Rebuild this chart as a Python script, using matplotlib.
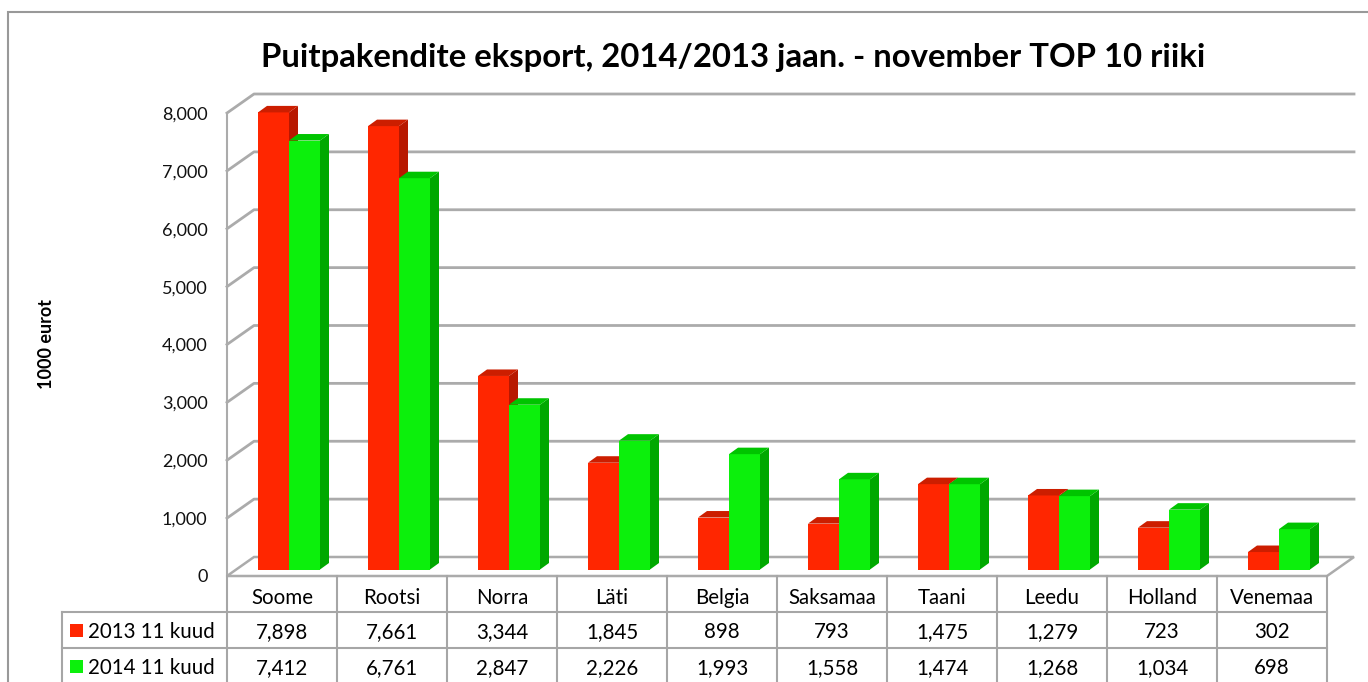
import matplotlib
matplotlib.use("Agg")
import matplotlib.pyplot as plt
import matplotlib.ticker as mticker
from matplotlib.patches import Rectangle, Polygon

plt.rcParams['font.family'] = ['Lato', 'DejaVu Sans']

# data
countries = ['Soome', 'Rootsi', 'Norra', 'Läti', 'Belgia', 'Saksamaa',
             'Taani', 'Leedu', 'Holland', 'Venemaa']
series_names = ['2013 11 kuud', '2014 11 kuud']
values_2013 = [7898, 7661, 3344, 1845, 898, 793, 1475, 1279, 723, 302]
values_2014 = [7412, 6761, 2847, 2226, 1993, 1558, 1474, 1268, 1034, 698]
y_ticks = [0, 1000, 2000, 3000, 4000, 5000, 6000, 7000, 8000]

title = 'Puitpakendite eksport, 2014/2013 jaan. - november TOP 10 riiki'
y_label = '1000 eurot'

colors = {
    'red_front': '#ff2600', 'red_side': '#b81800', 'red_top': '#cc1e00',
    'green_front': '#0cf00c', 'green_side': '#00a800', 'green_top': '#00c400',
    'grid': '#ababab', 'table': '#a6a6a6', 'frame': '#999999',
}

W, H = 1368, 682
fig = plt.figure(figsize=(W / 100, H / 100), dpi=100)

# outer chart frame (right and bottom edges fall outside the picture)
fig.patches.append(Rectangle((8 / W, -0.2), 2, 1.2 - 12 / H, transform=fig.transFigure,
                             fill=False, edgecolor=colors['frame'], lw=1.5))

# main plot: front plane of the 3d box
left_px, right_px, zero_px, top_px = 227, 1327, 576, 113
ax = fig.add_axes([left_px / W, (H - zero_px) / H,
                   (right_px - left_px) / W, (zero_px - top_px) / H])
n = len(countries)
ax.set_xlim(0, n)
ax.set_ylim(0, 8000)
for s in ax.spines.values():
    s.set_visible(False)
ax.set_xticks([])
ax.set_yticks(y_ticks)
ax.yaxis.set_major_formatter(mticker.StrMethodFormatter('{x:,.0f}'))
ax.tick_params(axis='y', length=0, pad=14, labelsize=13, labelcolor='#111111')

px_x = n / (right_px - left_px)          # category units per pixel
px_y = 8000 / (zero_px - top_px)         # value units per pixel
dx, dy = 27 * px_x, 19 * px_y            # full depth of the box
bdx, bdy = 9 * px_x, 6.5 * px_y          # bar front offset / bar depth
bw = 31 * px_x
shift = -2 * px_x

# floor
ax.add_patch(Polygon([(0, 0), (n, 0), (n + dx, dy), (dx, dy)], closed=True,
                     facecolor='white', edgecolor=colors['grid'], lw=1.8,
                     clip_on=False, zorder=1))
# left wall edge and back wall gridlines
ax.plot([0, 0], [0, 8000], color=colors['grid'], lw=1.5, clip_on=False, zorder=1)
for v in y_ticks[1:]:
    ax.plot([0, dx, n + dx], [v, v + dy, v + dy], color=colors['grid'], lw=2,
            clip_on=False, zorder=1)

centers = [i + 0.5 for i in range(n)]
z = 3
for i, c in enumerate(centers):
    for k, (vals, key) in enumerate([(values_2013, 'red'), (values_2014, 'green')]):
        v = vals[i]
        x0 = c - bw + k * bw + bdx + shift
        ax.bar(x0, v, width=bw, bottom=bdy, align='edge', color=colors[key + '_front'],
               lw=0, zorder=z, clip_on=False)
        ax.fill([x0 + bw, x0 + bw + bdx, x0 + bw + bdx, x0 + bw],
                [bdy, 2 * bdy, 2 * bdy + v, bdy + v],
                color=colors[key + '_side'], lw=0, zorder=z, clip_on=False)
        ax.fill([x0, x0 + bw, x0 + bw + bdx, x0 + bdx],
                [bdy + v, bdy + v, 2 * bdy + v, 2 * bdy + v],
                color=colors[key + '_top'], lw=0, zorder=z, clip_on=False)
        z += 1

# data table below the chart
row_px = 36
tax = fig.add_axes([left_px / W, (H - zero_px - 3 * row_px) / H,
                    (right_px - left_px) / W, 3 * row_px / H])
tax.set_xlim(0, n)
tax.set_ylim(3, 0)
tax.axis('off')
leg_left = (62 - left_px) * px_x
tc = colors['table']
for i in range(n + 1):
    tax.plot([i, i], [0, 3], color=tc, lw=1.5, clip_on=False)
tax.plot([leg_left, leg_left], [1, 3], color=tc, lw=1.5, clip_on=False)
for r in [1, 2]:
    tax.plot([leg_left, n], [r, r], color=tc, lw=1.5, clip_on=False)

fs = 14.8
for i, c in enumerate(centers):
    tax.text(c, 0.62, countries[i], ha='center', va='center', fontsize=fs)
    tax.text(c, 1.55, f'{values_2013[i]:,}', ha='center', va='center', fontsize=fs)
    tax.text(c, 2.55, f'{values_2014[i]:,}', ha='center', va='center', fontsize=fs)

sq_w = 13 * px_x
for r, (name, key) in enumerate(zip(series_names, ['red', 'green'])):
    tax.add_patch(Rectangle(((70 - left_px) * px_x, r + 1 + 0.33), sq_w, 0.36,
                            facecolor=colors[key + '_front'], lw=0, clip_on=False))
    tax.text((88 - left_px) * px_x, r + 1.55, name, ha='left', va='center', fontsize=fs)

fig.text(733 / W, 1 - 58 / H, title, ha='center', va='center', fontsize=23.7,
         fontweight='bold')
fig.text(46 / W, 1 - 344 / H, y_label, ha='center', va='center', rotation=90,
         fontsize=13, fontweight='bold')

fig.savefig('out.png', dpi=100)
